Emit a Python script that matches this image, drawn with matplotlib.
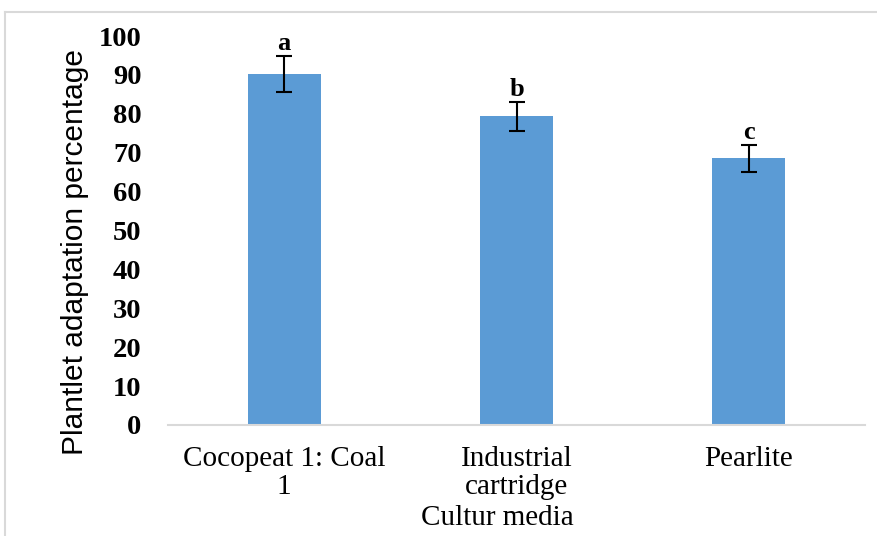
import matplotlib
matplotlib.use("Agg")
import matplotlib.pyplot as plt
from matplotlib.lines import Line2D

categories = ["Cocopeat 1: Coal\n1", "Industrial\ncartridge", "Pearlite"]
values = [90.2, 79.4, 68.6]
errors = [4.6, 3.7, 3.5]
letters = ["a", "b", "c"]
yticks = [0, 10, 20, 30, 40, 50, 60, 70, 80, 90, 100]

W, H = 878, 536
fig = plt.figure(figsize=(W / 100, H / 100), dpi=100)
ax = fig.add_axes([168 / W, (H - 425) / H, (865 - 168) / W, (425 - 36) / H])

x = list(range(len(categories)))
ax.bar(x, values, width=0.315, color="#5B9BD5", zorder=2)
ax.errorbar(x, values, yerr=errors, fmt="none", ecolor="black", elinewidth=1.5,
            capsize=6, capthick=1.5, zorder=3)
for xi, v, e, l in zip(x, values, errors, letters):
    ax.text(xi, v + e + 0.2, l, ha="center", va="bottom", family="Liberation Serif",
            fontweight="bold", fontsize=19)

ax.set_xlim(-0.5, 2.5)
ax.set_ylim(0, 100)
ax.set_yticks(yticks)
ax.set_yticklabels([str(t) for t in yticks], family="Liberation Serif",
                   fontweight="bold", fontsize=20.5)
ax.set_xticks(x)
ax.set_xticklabels(categories, family="Liberation Serif", fontsize=21,
                   linespacing=1.1)
ax.tick_params(axis="y", length=0, pad=19)
ax.tick_params(axis="x", length=0, pad=15)
for s in ["top", "right", "left"]:
    ax.spines[s].set_visible(False)
ax.spines["bottom"].set_color("#D9D9D9")
ax.spines["bottom"].set_linewidth(1.5)

fig.text(75 / W, (H - 252) / H, "Plantlet adaptation percentage", rotation=90,
         ha="center", va="center", family="Liberation Sans", fontsize=21.5)
fig.text(497 / W, (H - 518) / H, "Cultur media", ha="center", va="center",
         family="Liberation Serif", fontsize=21)

# light frame
fig.add_artist(Line2D([5 / W, 5 / W], [0, (H - 12) / H], color="#D9D9D9", lw=1.5,
                      transform=fig.transFigure))
fig.add_artist(Line2D([5 / W, 1], [(H - 12) / H, (H - 12) / H], color="#D9D9D9",
                      lw=1.5, transform=fig.transFigure))

fig.savefig("out.png", dpi=100)
